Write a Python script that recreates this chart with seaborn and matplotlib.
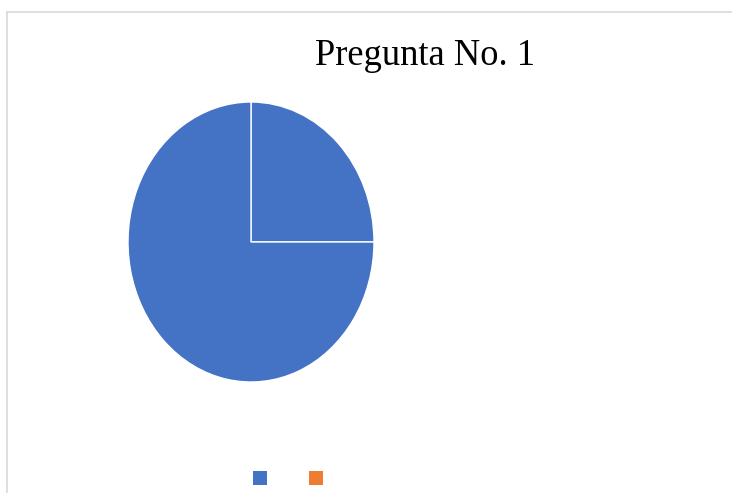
import seaborn as sns
from matplotlib import pyplot as plt
from matplotlib.patches import Patch
from matplotlib.lines import Line2D

# Pregunta No. 1 - two answers, both drawn in the same blue (as in the original)
categories = ["", ""]
values = [25, 75]
slice_colors = ["#4472C4", "#4472C4"]
legend_colors = ["#4472C4", "#ED7D31"]
title = "Pregunta No. 1"

sns.set_theme(style="white")
plt.rcParams["font.family"] = ["Liberation Serif", "DejaVu Serif"]

fig = plt.figure(figsize=(7.32, 4.93), dpi=100)

# pie axes sized so the pie comes out slightly taller than wide
ax = fig.add_axes([128 / 732, 111 / 493, 246 / 732, 280 / 493])
ax.pie(
    values,
    colors=slice_colors,
    startangle=90,
    counterclock=False,
    wedgeprops=dict(edgecolor="white", linewidth=1.0),
)
ax.set_aspect("auto")
ax.set_xlim(-1, 1)
ax.set_ylim(-1, 1)
ax.axis("off")

fig.text(425.5 / 732, 1 - 56 / 493, title, ha="center", va="center", fontsize=26.3,
         color="black")

# chart border (left and top edge visible)
fig.add_artist(Line2D([7.5 / 732, 7.5 / 732], [0, 1 - 11.5 / 493],
                      color="#d9d9d9", lw=1.2))
fig.add_artist(Line2D([7.5 / 732, 1], [1 - 11.5 / 493, 1 - 11.5 / 493],
                      color="#d9d9d9", lw=1.2))

handles = [Patch(facecolor=c, edgecolor="none") for c in legend_colors]
fig.legend(
    handles,
    categories,
    loc="center",
    bbox_to_anchor=(288 / 732, 1 - 479 / 493),
    ncol=2,
    frameon=False,
    fontsize=10,
    handlelength=1.0,
    handleheight=1.0,
    handletextpad=0,
    columnspacing=3.0,
    borderpad=0,
)
for h in fig.legends[0].legend_handles:
    h.set_width(10)
    h.set_height(10)
    h.set_y(-1.5)

fig.savefig("out.png", dpi=100)
